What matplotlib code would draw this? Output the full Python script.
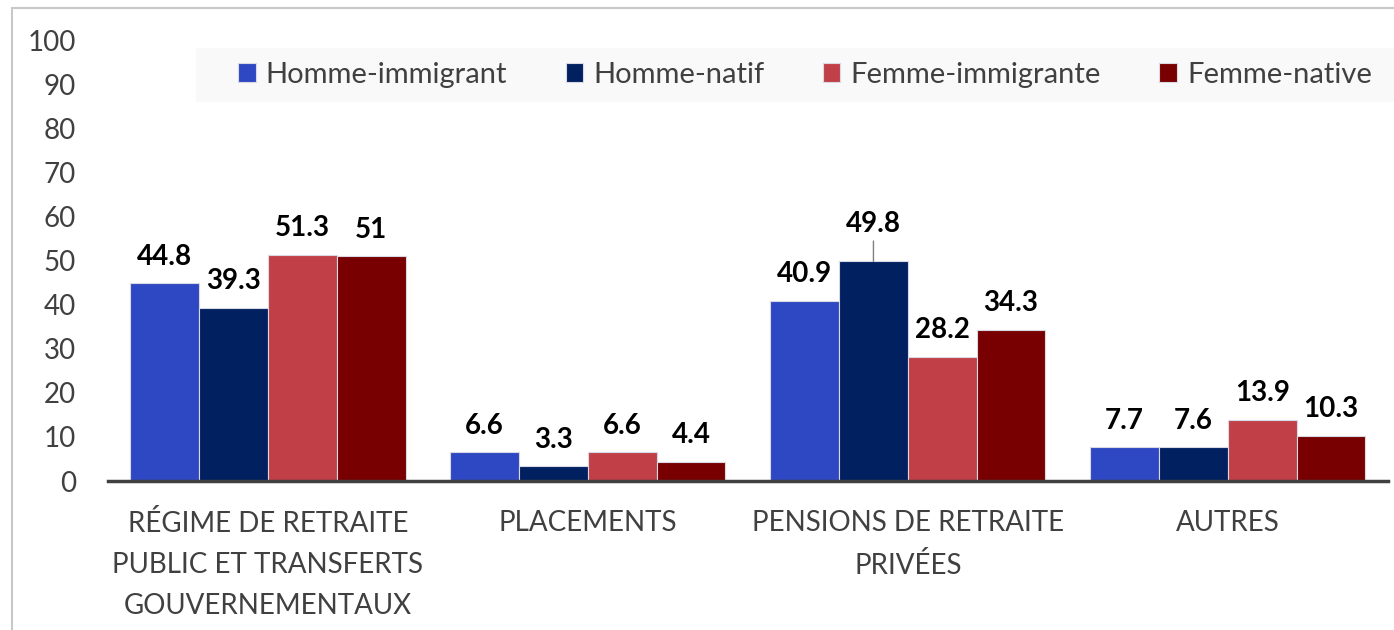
import matplotlib.pyplot as plt
from matplotlib.patches import Rectangle
import numpy as np

plt.rcParams['font.family'] = ['Lato', 'DejaVu Sans']

categories = ["RÉGIME DE RETRAITE\nPUBLIC ET TRANSFERTS\nGOUVERNEMENTAUX",
              "PLACEMENTS",
              "PENSIONS DE RETRAITE\nPRIVÉES",
              "AUTRES"]
series = ["Homme-immigrant", "Homme-natif", "Femme-immigrante", "Femme-native"]
homme_immigrant = [44.8, 6.6, 40.9, 7.7]
homme_natif = [39.3, 3.3, 49.8, 7.6]
femme_immigrante = [51.3, 6.6, 28.2, 13.9]
femme_native = [51, 4.4, 34.3, 10.3]
values = [homme_immigrant, homme_natif, femme_immigrante, femme_native]
colors = ["#2e47c2", "#002060", "#c13f46", "#780000"]

fig = plt.figure(figsize=(13.94, 6.3), dpi=100)
ax = fig.add_axes([0.0775, 0.2365, 0.918, 0.70])

# outer chart border (only left and top visible)
fig.patches.append(Rectangle((12 / 1394, -0.5), 2, 0.5 + 1 - 8 / 630,
                             transform=fig.transFigure, fill=False,
                             edgecolor="#c8c8c8", linewidth=1.5))
# legend background band
fig.patches.append(Rectangle((196 / 1394, 1 - 102 / 630), 1, 54 / 630,
                             transform=fig.transFigure, facecolor="#f9f9f9",
                             edgecolor="none", zorder=0))

x = np.arange(len(categories))
width = 0.215
for i, (name, vals, col) in enumerate(zip(series, values, colors)):
    pos = x + (i - 1.5) * width
    bars = ax.bar(pos, vals, width, color=col, edgecolor="#d9d9e6",
                  linewidth=0.8, label=name)
    for b, v in zip(bars, vals):
        lab = f"{v:g}"
        top = b.get_height()
        if name == "Homme-natif" and v == max(vals) and v > 45:
            # label pulled up with a leader line
            ax.annotate(lab, (b.get_x() + width / 2, top), xytext=(0, 27),
                        textcoords="offset points", ha="center", va="center",
                        fontsize=20, fontweight="bold", color="black",
                        arrowprops=dict(arrowstyle="-", color="#7f7f7f",
                                        lw=1, shrinkA=1, shrinkB=0))
        else:
            ax.annotate(lab, (b.get_x() + width / 2, top), xytext=(0, 19),
                        textcoords="offset points", ha="center", va="center",
                        fontsize=20, fontweight="bold", color="black")

ax.set_xlim(-0.5, 3.5)
ax.set_ylim(0, 100)
ax.set_yticks(range(0, 101, 10))
ax.set_xticks(x)
ax.set_xticklabels(categories, fontsize=20, color="#404040", linespacing=1.72,
                   va="top")
ax.tick_params(axis="y", length=0, labelsize=20, labelcolor="#404040", pad=23)
ax.tick_params(axis="x", length=0, pad=21)
for s in ["top", "right", "left"]:
    ax.spines[s].set_visible(False)
ax.spines["bottom"].set_color("#404040")
ax.spines["bottom"].set_linewidth(2.5)

leg = fig.legend(loc="center", bbox_to_anchor=(805 / 1394, 1 - 75 / 630),
                 ncol=4, frameon=False, fontsize=21,
                 handlelength=0.6, handleheight=0.65, handletextpad=0.35,
                 columnspacing=2.0, borderpad=0, borderaxespad=0)
for t in leg.get_texts():
    t.set_color("#404040")

fig.savefig("out.png", dpi=100)
